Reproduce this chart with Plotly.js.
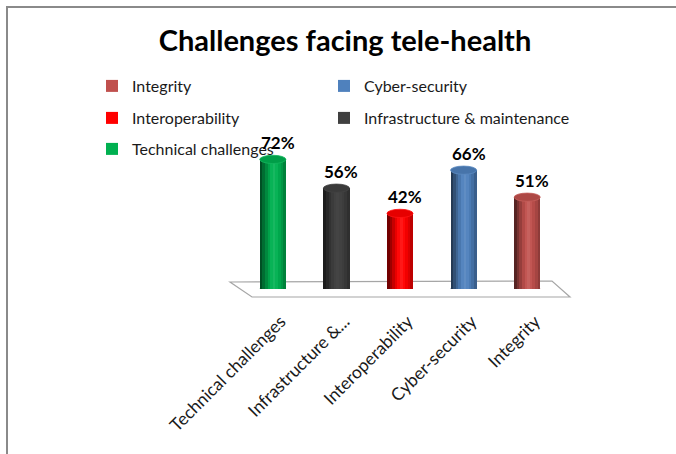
<!DOCTYPE html>
<html>
<head>
<meta charset="utf-8">
<script src="https://cdn.plot.ly/plotly-3.0.1.min.js"></script>
<style>
  html, body { margin: 0; padding: 0; background: #fff; }
  #wrap { position: relative; width: 676px; height: 454px; }
  #chart { position: absolute; left: 0; top: 0; width: 676px; height: 454px; }
  #frame { position: absolute; left: 6px; top: 6px; width: 670px; height: 448px;
           border-top: 2px solid #8a8a8a; border-left: 2px solid #8a8a8a;
           box-sizing: border-box; pointer-events: none; }
</style>
</head>
<body>
<div id="wrap">
  <div id="chart"></div>
  <div id="frame"></div>
</div>
<script>
// ---- data ----
const categories = ['Technical challenges', 'Infrastructure & maintenance', 'Interoperability', 'Cyber-security', 'Integrity'];
const tickLabels = ['Technical challenges', 'Infrastructure &...', 'Interoperability', 'Cyber-security', 'Integrity'];
const values = [72, 56, 42, 66, 51];
const barColors = ['#00B050', '#404040', '#FF0000', '#4F81BD', '#C0504D'];
const legendOrder = ['Integrity', 'Cyber-security', 'Interoperability', 'Infrastructure & maintenance', 'Technical challenges'];

// ---- styling helpers ----
const FONT = 'Lato, "Open Sans", "DejaVu Sans", sans-serif';
const W = 676, H = 454;
const M = { l: 241, r: 117, t: 109, b: 165, autoexpand: false };
const barW = 0.41;
const nSlices = 10;
const shade = [0.45, 0.62, 0.78, 0.92, 1.02, 1.06, 1.02, 0.95, 0.86, 0.74];

function hexToRgb(h) {
  const n = parseInt(h.slice(1), 16);
  return [(n >> 16) & 255, (n >> 8) & 255, n & 255];
}
function scale(h, f) {
  const c = hexToRgb(h);
  const out = c.map(v => {
    let x = f <= 1 ? v * f : v + (255 - v) * (f - 1) * 1.6;
    if (h === '#404040' && f > 1) x = v * f;
    return Math.max(0, Math.min(255, Math.round(x)));
  });
  return 'rgb(' + out.join(',') + ')';
}

const xs = categories.map((_, i) => i);
const traces = [];

// legend / base traces (one per category)
categories.forEach((cat, i) => {
  const rank = legendOrder.indexOf(cat);
  traces.push({
    type: 'bar', x: [xs[i]], y: [values[i]], name: cat,
    width: barW, marker: { color: barColors[i], line: { width: 0 } },
    legend: rank === 0 ? 'legend' : 'legend' + (rank + 1),
    hoverinfo: 'skip'
  });
});

// shading slices for the cylinder look
for (let k = 0; k < nSlices; k++) {
  traces.push({
    type: 'bar', x: xs, y: values, showlegend: false, hoverinfo: 'skip',
    width: barW / nSlices + 0.004,
    offset: -barW / 2 + k * barW / nSlices,
    marker: { color: barColors.map(c => scale(c, shade[k])), line: { width: 0 } }
  });
}

// pixel -> paper helper (decoration only)
const pw = W - M.l - M.r, ph = H - M.t - M.b;
const px = x => (x - M.l) / pw;
const py = y => (H - M.b - y) / ph;

const shapes = [];
// floor
shapes.push({
  type: 'path', xref: 'paper', yref: 'paper', layer: 'below',
  path: `M${px(230)},${py(282)} L${px(552)},${py(281)} L${px(570)},${py(297)} L${px(252)},${py(297)} Z`,
  line: { color: '#a6a6a6', width: 1.2 }, fillcolor: 'rgba(255,255,255,0)'
});
const ellH = 2.3; // ellipse half-height in data units
xs.forEach((x, i) => {
  shapes.push({
    type: 'circle', xref: 'x', yref: 'y', layer: 'below',
    x0: x - barW / 2, x1: x + barW / 2, y0: -ellH, y1: ellH,
    fillcolor: scale(barColors[i], 0.8), line: { width: 0 }
  });
  shapes.push({
    type: 'circle', xref: 'x', yref: 'y', layer: 'above',
    x0: x - barW / 2, x1: x + barW / 2, y0: values[i] - ellH, y1: values[i] + ellH,
    fillcolor: scale(barColors[i], 0.9), line: { color: scale(barColors[i], 1.05), width: 0.8 }
  });
});

const annotations = xs.map((x, i) => ({
  x: x, y: values[i], xref: 'x', yref: 'y', text: '<b>' + values[i] + '%</b>',
  showarrow: false, xshift: 5, yshift: 17,
  font: { family: FONT, size: 17, color: '#000' }
}));

// legend placement (text start px, row centre px)
const legPos = [[132, 86], [364, 86], [132, 118], [364, 118], [132, 149]];
const layout = {
  width: W, height: H,
  margin: M,
  paper_bgcolor: '#fff', plot_bgcolor: 'rgba(0,0,0,0)',
  barmode: 'overlay', bargap: 0,
  title: {
    text: '<b>Challenges facing tele-health</b>',
    x: 345 / W, xref: 'container', xanchor: 'center',
    y: 1 - 41 / H, yref: 'container', yanchor: 'middle',
    font: { family: FONT, size: 29, color: '#000' },
    automargin: false
  },
  xaxis: {
    range: [-0.5, 4.5], tickvals: xs, ticktext: tickLabels,
    tickangle: -45, showgrid: false, zeroline: false, showline: false,
    ticks: '', ticklabelshift: 8, ticklabelstandoff: 18, automargin: false,
    tickfont: { family: FONT, size: 17.5, color: '#1a1a1a' }, fixedrange: true
  },
  yaxis: {
    range: [0, 100], visible: false, showgrid: false, zeroline: false, fixedrange: true
  },
  shapes: shapes,
  annotations: annotations,
  showlegend: true
};
legPos.forEach((p, r) => {
  const key = r === 0 ? 'legend' : 'legend' + (r + 1);
  layout[key] = {
    xref: 'container', yref: 'container',
    x: (p[0] - 40) / W, xanchor: 'left',
    y: 1 - p[1] / H, yanchor: 'middle',
    bgcolor: 'rgba(0,0,0,0)', borderwidth: 0,
    font: { family: FONT, size: 16, color: '#1a1a1a' },
    itemclick: false, itemdoubleclick: false
  };
});

Plotly.newPlot('chart', traces, layout, { displayModeBar: false, staticPlot: true });
</script>
</body>
</html>
